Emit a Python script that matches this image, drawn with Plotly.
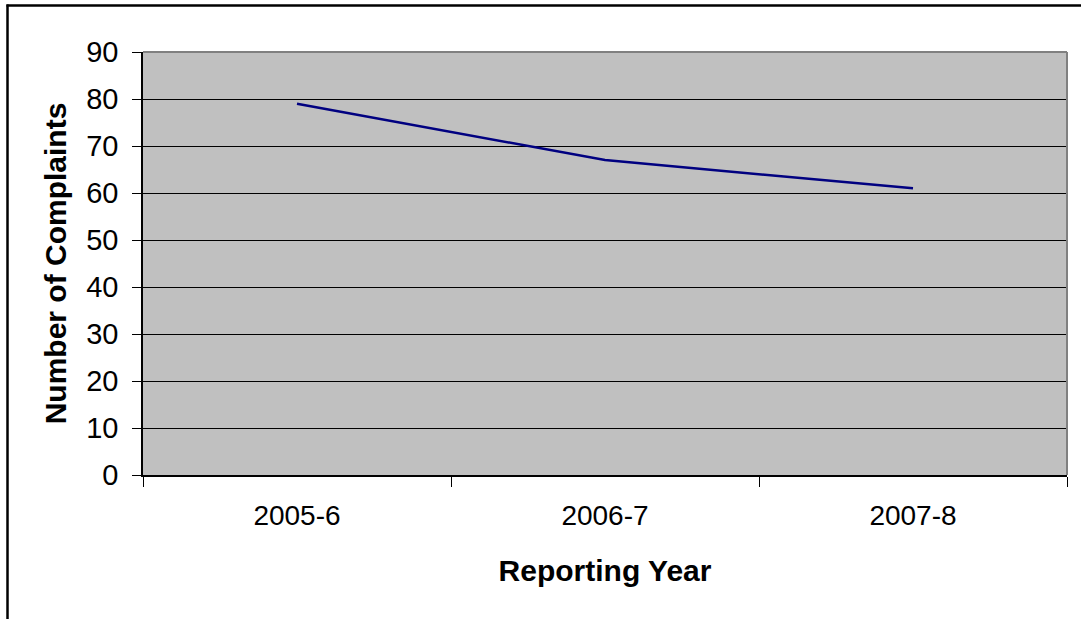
import plotly.graph_objects as go

# Complaints received per reporting year
years = ["2005-6", "2006-7", "2007-8"]
complaints = [79, 67, 61]

y_ticks = list(range(0, 91, 10))

FONT = "Liberation Sans, Arial, sans-serif"

fig = go.Figure()
fig.add_trace(go.Scatter(
    x=years,
    y=complaints,
    mode="lines",
    line=dict(color="#000080", width=2.5),
    showlegend=False,
    hoverinfo="x+y",
))

# plot area in pixels: x 143..1067, y 52..475
L, R, T, B = 143, 1067, 52, 475
W, H = 1081, 619
pw, ph = R - L, B - T

def px_x(v):
    return (v - L) / pw

def px_y(v):
    return (B - v) / ph

shapes = [
    # outer chart frame: top and left edges
    dict(type="line", xref="paper", yref="paper",
         x0=px_x(6.5), x1=px_x(W), y0=px_y(5.5), y1=px_y(5.5),
         line=dict(color="black", width=2.5), layer="above"),
    dict(type="line", xref="paper", yref="paper",
         x0=px_x(7.5), x1=px_x(7.5), y0=px_y(H), y1=px_y(4.5),
         line=dict(color="black", width=2.5), layer="above"),
    # grey top and right edges of the plot area
    dict(type="line", xref="paper", yref="paper", x0=0, x1=1, y0=1, y1=1,
         line=dict(color="#808080", width=2), layer="above"),
    dict(type="line", xref="paper", yref="paper", x0=1, x1=1, y0=0, y1=1,
         line=dict(color="#808080", width=2), layer="above"),
]

fig.update_layout(
    width=W, height=H,
    margin=dict(l=L, r=W - R, t=T, b=H - B),
    paper_bgcolor="white",
    plot_bgcolor="#C0C0C0",
    font=dict(family=FONT, size=28, color="black"),
    shapes=shapes,
    xaxis=dict(
        type="category",
        range=[-0.5, 2.5],
        tickson="boundaries",
        ticks="outside",
        ticklen=10,
        tickcolor="black",
        tickwidth=1,
        showgrid=False,
        showline=True,
        linecolor="black",
        linewidth=1.5,
        tickfont=dict(family=FONT, size=28),
        title=dict(text="<b>Reporting Year</b>", font=dict(family=FONT, size=30), standoff=30),
        ticklabelstandoff=15,
    ),
    yaxis=dict(
        range=[0, 90],
        tickmode="array",
        tickvals=y_ticks,
        ticktext=[str(v) for v in y_ticks],
        ticks="outside",
        ticklen=9,
        tickcolor="black",
        tickwidth=1,
        showgrid=True,
        gridcolor="black",
        gridwidth=1,
        zeroline=False,
        showline=True,
        linecolor="black",
        linewidth=1.5,
        tickfont=dict(family=FONT, size=29),
        title=dict(text="<b>Number of Complaints</b>", font=dict(family=FONT, size=30), standoff=11),
        ticklabelstandoff=8,
    ),
)

fig.write_html("out.html")
